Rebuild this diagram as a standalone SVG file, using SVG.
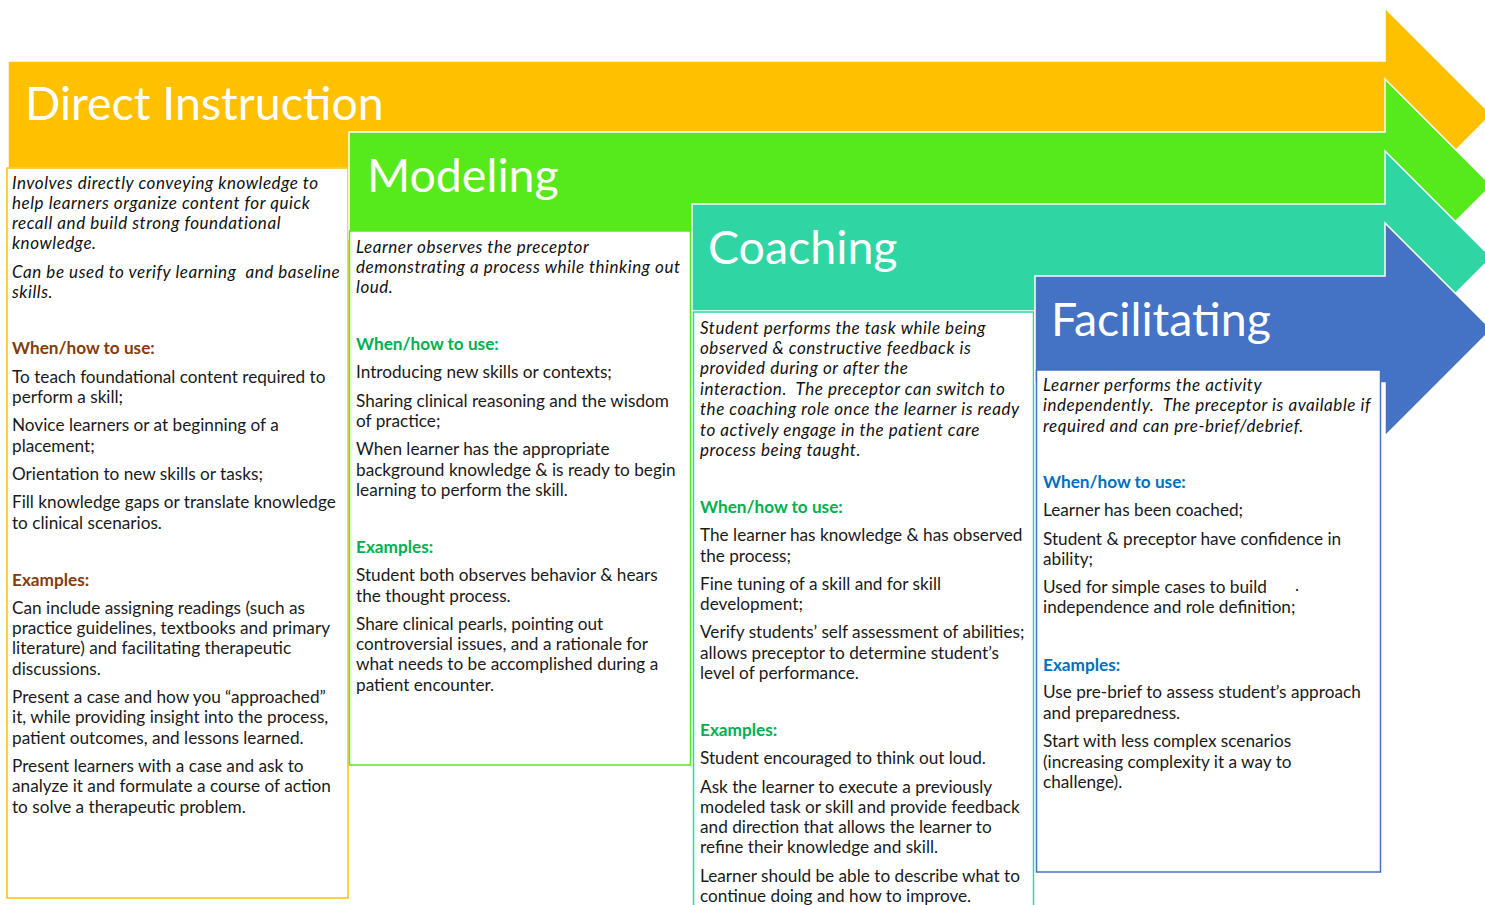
<svg xmlns="http://www.w3.org/2000/svg" width="1485" height="905" viewBox="0 0 1485 905">
<style>
.arrow{stroke:#ffffff;stroke-width:1.5}
.box{fill:#ffffff;stroke-width:1.5}
.title{font-family:Lato,"Open Sans","Liberation Sans",sans-serif;fill:#ffffff;font-size:46.5px}
.t{font-family:Lato,"Open Sans","Liberation Sans",sans-serif;font-size:17.2px;fill:#1a1a1a;white-space:pre}
.i{font-style:italic;font-size:17px;letter-spacing:0.55px;fill:#111111}
.h{font-weight:bold}
.brown{fill:#843C0C}
.grn{fill:#00B050}
.blu{fill:#0070C0}
</style>
<rect width="1485" height="905" fill="#ffffff"/>
<g id="direct-instruction">
<path class="arrow" fill="#FFC000" d="M8,61 H1385 V8 L1491.5,114.5 L1385,221 V168 H8 Z"/>
<text class="title" x="25" y="120">Direct Instruction</text>
<rect class="box" x="7" y="168" width="341" height="730" stroke="#FFC000"/>
<g class="t">
<text class="i" x="12" y="189">Involves directly conveying knowledge to</text>
<text class="i" x="12" y="209">help learners organize content for quick</text>
<text class="i" x="12" y="229">recall and build strong foundational</text>
<text class="i" x="12" y="249">knowledge.</text>
<text class="i" x="12" y="278" xml:space="preserve">Can be used to verify learning  and baseline</text>
<text class="i" x="12" y="298">skills.</text>
<text class="h brown" x="12" y="354">When/how to use:</text>
<text x="12" y="383">To teach foundational content required to</text>
<text x="12" y="403">perform a skill;</text>
<text x="12" y="431">Novice learners or at beginning of a</text>
<text x="12" y="452">placement;</text>
<text x="12" y="480">Orientation to new skills or tasks;</text>
<text x="12" y="508">Fill knowledge gaps or translate knowledge</text>
<text x="12" y="529">to clinical scenarios.</text>
<text class="h brown" x="12" y="586">Examples:</text>
<text x="12" y="614">Can include assigning readings (such as</text>
<text x="12" y="634">practice guidelines, textbooks and primary</text>
<text x="12" y="654">literature) and facilitating therapeutic</text>
<text x="12" y="675">discussions.</text>
<text x="12" y="703">Present a case and how you “approached”</text>
<text x="12" y="723">it, while providing insight into the process,</text>
<text x="12" y="744">patient outcomes, and lessons learned.</text>
<text x="12" y="772">Present learners with a case and ask to</text>
<text x="12" y="792">analyze it and formulate a course of action</text>
<text x="12" y="813">to solve a therapeutic problem.</text>
</g>
</g>
<g id="modeling">
<path class="arrow" fill="#56E91C" d="M349,132 H1385 V79 L1491.5,185.5 L1385,292 V239 H349 Z"/>
<text class="title" x="367" y="192">Modeling</text>
<rect class="box" x="349.5" y="231" width="341" height="534" stroke="#56E91C"/>
<g class="t">
<text class="i" x="356" y="253">Learner observes the preceptor</text>
<text class="i" x="356" y="273">demonstrating a process while thinking out</text>
<text class="i" x="356" y="293">loud.</text>
<text class="h grn" x="356" y="350">When/how to use:</text>
<text x="356" y="378">Introducing new skills or contexts;</text>
<text x="356" y="407">Sharing clinical reasoning and the wisdom</text>
<text x="356" y="427">of practice;</text>
<text x="356" y="455">When learner has the appropriate</text>
<text x="356" y="476">background knowledge &amp; is ready to begin</text>
<text x="356" y="496">learning to perform the skill.</text>
<text class="h grn" x="356" y="553">Examples:</text>
<text x="356" y="581">Student both observes behavior &amp; hears</text>
<text x="356" y="602">the thought process.</text>
<text x="356" y="630">Share clinical pearls, pointing out</text>
<text x="356" y="650">controversial issues, and a rationale for</text>
<text x="356" y="670">what needs to be accomplished during a</text>
<text x="356" y="691">patient encounter.</text>
</g>
</g>
<g id="coaching">
<path class="arrow" fill="#2FD6A3" d="M692,204 H1385 V151 L1491.5,257.5 L1385,364 V311 H692 Z"/>
<text class="title" x="708" y="264">Coaching</text>
<rect class="box" x="693.5" y="312" width="340" height="600" stroke="#2FD6A3"/>
<g class="t">
<text class="i" x="700" y="334">Student performs the task while being</text>
<text class="i" x="700" y="354">observed &amp; constructive feedback is</text>
<text class="i" x="700" y="374">provided during or after the</text>
<text class="i" x="700" y="395" xml:space="preserve">interaction.  The preceptor can switch to</text>
<text class="i" x="700" y="415">the coaching role once the learner is ready</text>
<text class="i" x="700" y="436">to actively engage in the patient care</text>
<text class="i" x="700" y="456">process being taught.</text>
<text class="h grn" x="700" y="513">When/how to use:</text>
<text x="700" y="541">The learner has knowledge &amp; has observed</text>
<text x="700" y="562">the process;</text>
<text x="700" y="590">Fine tuning of a skill and for skill</text>
<text x="700" y="610">development;</text>
<text x="700" y="638">Verify students’ self assessment of abilities;</text>
<text x="700" y="659">allows preceptor to determine student’s</text>
<text x="700" y="679">level of performance.</text>
<text class="h grn" x="700" y="736">Examples:</text>
<text x="700" y="764">Student encouraged to think out loud.</text>
<text x="700" y="793">Ask the learner to execute a previously</text>
<text x="700" y="813">modeled task or skill and provide feedback</text>
<text x="700" y="833">and direction that allows the learner to</text>
<text x="700" y="853">refine their knowledge and skill.</text>
<text x="700" y="882">Learner should be able to describe what to</text>
<text x="700" y="902">continue doing and how to improve.</text>
</g>
</g>
<g id="facilitating">
<path class="arrow" fill="#4472C4" d="M1035,276 H1385 V223 L1491.5,329.5 L1385,436 V383 H1035 Z"/>
<text class="title" x="1051" y="336">Facilitating</text>
<rect class="box" x="1036.5" y="370" width="344" height="502" stroke="#4472C4"/>
<g class="t">
<text class="i" x="1043" y="391">Learner performs the activity</text>
<text class="i" x="1043" y="411" xml:space="preserve">independently.  The preceptor is available if</text>
<text class="i" x="1043" y="432">required and can pre-brief/debrief.</text>
<text class="h blu" x="1043" y="488">When/how to use:</text>
<text x="1043" y="516">Learner has been coached;</text>
<text x="1043" y="545">Student &amp; preceptor have confidence in</text>
<text x="1043" y="565">ability;</text>
<text x="1043" y="593">Used for simple cases to build</text>
<text x="1295" y="591">.</text>
<text x="1043" y="613">independence and role definition;</text>
<text class="h blu" x="1043" y="671">Examples:</text>
<text x="1043" y="698">Use pre-brief to assess student’s approach</text>
<text x="1043" y="719">and preparedness.</text>
<text x="1043" y="747">Start with less complex scenarios</text>
<text x="1043" y="768">(increasing complexity it a way to</text>
<text x="1043" y="788">challenge).</text>
</g>
</g>
<g id="connectors"></g>
</svg>
